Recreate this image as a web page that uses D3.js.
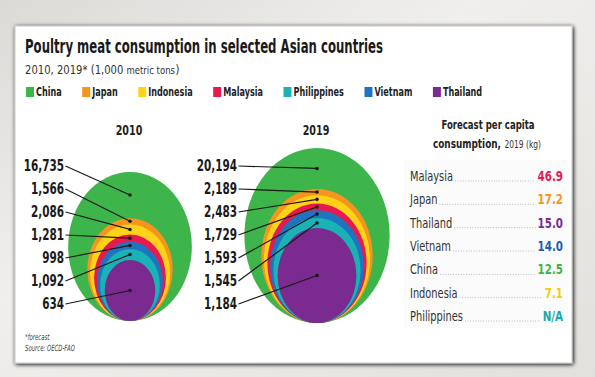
<!DOCTYPE html>
<html>
<head>
<meta charset="utf-8">
<script src="https://cdn.jsdelivr.net/npm/d3@7"></script>
<style>
  html, body { margin: 0; padding: 0; background: #e8e6e3; }
  svg { display: block; }
  .cond { font-family: "DejaVu Sans", sans-serif; font-stretch: condensed; }
</style>
</head>
<body>
<svg id="chart" width="595" height="377"></svg>
<script>
// ---------------- data ----------------
const countries = ["China", "Japan", "Indonesia", "Malaysia", "Vietnam", "Philippines", "Thailand"]; // outer -> inner
const legendOrder = ["China", "Japan", "Indonesia", "Malaysia", "Philippines", "Vietnam", "Thailand"];
const countryColors = ["#3db54a", "#f7941d", "#ffd21a", "#e8194f", "#1f74c0", "#19b2b5", "#7b2b90"];
const years = ["2010", "2019"];
const values2010 = [16735, 1566, 2086, 1281, 998, 1092, 634];
const values2019 = [20194, 2189, 2483, 1729, 1593, 1545, 1184];
const perCapitaCountries = ["Malaysia", "Japan", "Thailand", "Vietnam", "China", "Indonesia", "Philippines"];
const perCapitaValues = [46.9, 17.2, 15.0, 14.0, 12.5, 7.1, null];
const perCapitaColors = ["#e31b50", "#f5961f", "#7b2b90", "#1f5fa8", "#3db54a", "#f2cf00", "#17a9a9"];

const titleText = "Poultry meat consumption in selected Asian countries";
const subtitleParts = ["2010, 2019* (1,000", "metric tons", ")"];
const headerParts = ["Forecast per capita", "consumption,", "2019 (kg)"];
const footnotes = ["*forecast", "Source: OECD-FAO"];

// ---------------- helpers ----------------
// horizontally condense text (the original uses a condensed typeface)
function squeeze(sel, k) {
  sel.each(function () {
    const s = d3.select(this);
    const x = +s.attr("x") || 0, y = +s.attr("y") || 0;
    s.attr("x", 0).attr("y", 0).attr("transform", `translate(${x},${y}) scale(${k},1)`);
  });
  return sel;
}
function width(sel, k) { return sel.node().getComputedTextLength() * k; }

// ---------------- setup ----------------
const svg = d3.select("#chart");
const color = d3.scaleOrdinal().domain(countries).range(countryColors);
const fmt = d3.format(",");

const defs = svg.append("defs");
const bg = defs.append("linearGradient").attr("id", "bg").attr("x1", 0).attr("y1", 0).attr("x2", 1).attr("y2", 1);
bg.append("stop").attr("offset", "0%").attr("stop-color", "#dcdad7");
bg.append("stop").attr("offset", "40%").attr("stop-color", "#f0efed");
bg.append("stop").attr("offset", "100%").attr("stop-color", "#e2e0dc");
const sh = defs.append("filter").attr("id", "shadow").attr("x", "-5%").attr("y", "-5%").attr("width", "110%").attr("height", "110%");
sh.append("feGaussianBlur").attr("in", "SourceAlpha").attr("stdDeviation", 2);
sh.append("feOffset").attr("dx", 1).attr("dy", 1).attr("result", "b");
const m = sh.append("feMerge");
m.append("feMergeNode").attr("in", "b");
m.append("feMergeNode").attr("in", "SourceGraphic");

svg.append("rect").attr("width", 595).attr("height", 377).attr("fill", "url(#bg)");
svg.append("rect").attr("x", 15).attr("y", 26).attr("width", 557).attr("height", 337)
  .attr("fill", "#ffffff").attr("stroke", "#c8c8c8").attr("stroke-width", 1).attr("filter", "url(#shadow)");

// ---------------- title ----------------
svg.append("text").attr("class", "cond").attr("x", 25).attr("y", 53)
  .attr("font-size", 20).attr("font-weight", "bold").attr("fill", "#1a1a1a")
  .attr("textLength", 358).attr("lengthAdjust", "spacingAndGlyphs")
  .text(titleText);

// subtitle (three pieces, the middle one smaller)
{
  let sx = 25;
  const sizes = [13, 11, 13];
  subtitleParts.forEach((s, i) => {
    const t = svg.append("text").attr("class", "cond").attr("x", sx).attr("y", 74)
      .attr("font-size", sizes[i]).attr("fill", "#333").text(s);
    const w = width(t, 0.86);
    squeeze(t, 0.86);
    sx += w + (i === 0 ? 3 : 0.5);
  });
}

// ---------------- legend ----------------
const legend = svg.append("g").attr("class", "cond");
let lx = 26;
legendOrder.forEach(c => {
  const g = legend.append("g").attr("transform", `translate(${lx},0)`);
  g.append("rect").attr("x", 0).attr("y", 87).attr("width", 8).attr("height", 10).attr("fill", color(c));
  const t = g.append("text").attr("x", 10).attr("y", 96).attr("font-size", 12.5)
    .attr("font-weight", "bold").attr("fill", "#222").text(c);
  const w = width(t, 0.72);
  squeeze(t, 0.72);
  lx += 10 + w + 20.5;
});

// ---------------- nested ellipses ----------------
const panels = [
  { year: years[0], values: values2010, cx: 130, bottom: 321, ry: [30.5, 74.5], labelRight: 64 },
  { year: years[1], values: values2019, cx: 317, bottom: 323, ry: [47.5, 87.5], labelRight: 237 }
];
const aspect = 0.83;
const labelY = d3.scalePoint().domain(countries).range([171, 309]);

panels.forEach(p => {
  // cumulative sums from the innermost layer outward
  const cum = countries.map((c, i) => d3.sum(p.values.slice(i)));
  const r = d3.scaleSqrt().domain([d3.min(cum), d3.max(cum)]).range(p.ry);
  const layers = countries.map((c, i) => {
    const ry = r(cum[i]);
    return { country: c, value: p.values[i], ry, rx: ry * aspect, cy: p.bottom - ry, top: p.bottom - 2 * ry };
  });
  layers.forEach((d, i) => {
    d.dotY = i < layers.length - 1 ? (d.top + layers[i + 1].top) / 2 : d.cy;
  });

  const g = svg.append("g");
  squeeze(g.append("text").attr("class", "cond").attr("x", p.cx - 1).attr("y", 135)
    .attr("text-anchor", "middle").attr("font-size", 14).attr("font-weight", "bold").attr("fill", "#222")
    .text(p.year), 0.76);

  g.selectAll("ellipse").data(layers).join("ellipse")
    .attr("cx", p.cx).attr("cy", d => d.cy).attr("rx", d => d.rx).attr("ry", d => d.ry)
    .attr("fill", d => color(d.country));

  g.selectAll("line.lead").data(layers).join("line").attr("class", "lead")
    .attr("x1", p.labelRight + 1.5).attr("y1", d => labelY(d.country) - 5)
    .attr("x2", p.cx).attr("y2", d => d.dotY)
    .attr("stroke", "#1a1a1a").attr("stroke-width", 1.2);

  g.selectAll("circle.dot").data(layers).join("circle").attr("class", "dot")
    .attr("cx", p.cx).attr("cy", d => d.dotY).attr("r", 1.8).attr("fill", "#1a1a1a");

  const vals = g.selectAll("text.val").data(layers).join("text").attr("class", "val cond")
    .attr("x", p.labelRight).attr("y", d => labelY(d.country))
    .attr("text-anchor", "end").attr("font-size", 15.5).attr("font-weight", "bold").attr("fill", "#1a1a1a")
    .text(d => fmt(d.value));
  squeeze(vals, 0.75);
});

// ---------------- per-capita table ----------------
const tg = svg.append("g").attr("class", "cond");
tg.append("rect").attr("x", 404).attr("y", 160).attr("width", 165).attr("height", 168).attr("fill", "#fbfbfb");
squeeze(tg.append("text").attr("x", 488).attr("y", 129).attr("text-anchor", "middle")
  .attr("font-size", 13).attr("font-weight", "bold").attr("fill", "#222").text(headerParts[0]), 0.73);
{
  const a = tg.append("text").attr("y", 148).attr("font-size", 13).attr("font-weight", "bold").attr("fill", "#222").text(headerParts[1]);
  const b = tg.append("text").attr("y", 148).attr("font-size", 11).attr("fill", "#333").text(headerParts[2]);
  const wa = width(a, 0.76), wb = width(b, 0.76), gap = 3.5;
  const x0 = 487 - (wa + gap + wb) / 2;
  a.attr("x", x0); b.attr("x", x0 + wa + gap);
  squeeze(a, 0.76); squeeze(b, 0.76);
}

const rowY = d3.scalePoint().domain(perCapitaCountries).range([181, 321]);
const valRight = 563;
perCapitaCountries.forEach((c, i) => {
  const y = rowY(c);
  const name = tg.append("text").attr("x", 410).attr("y", y).attr("font-size", 13.5).attr("fill", "#333").text(c);
  const val = tg.append("text").attr("x", valRight).attr("y", y).attr("text-anchor", "end")
    .attr("font-size", 14.5).attr("font-weight", "bold").attr("fill", perCapitaColors[i])
    .text(perCapitaValues[i] == null ? "N/A" : d3.format(".1f")(perCapitaValues[i]));
  const nEnd = 410 + width(name, 0.81) + 2;
  const vStart = valRight - width(val, 0.79) - 2;
  squeeze(name, 0.81);
  squeeze(val, 0.79);
  tg.append("line").attr("x1", nEnd).attr("x2", vStart).attr("y1", y).attr("y2", y)
    .attr("stroke", "#999").attr("stroke-width", 0.8).attr("stroke-dasharray", "0.8,1.8");
});

// ---------------- footnotes ----------------
const fn = svg.append("g").attr("class", "cond").selectAll("text").data(footnotes).join("text")
  .attr("x", 25).attr("y", (d, i) => 340 + i * 11)
  .attr("font-size", 8.5).attr("font-style", "italic").attr("fill", "#444").text(d => d);
squeeze(fn, 0.7);
</script>
</body>
</html>
